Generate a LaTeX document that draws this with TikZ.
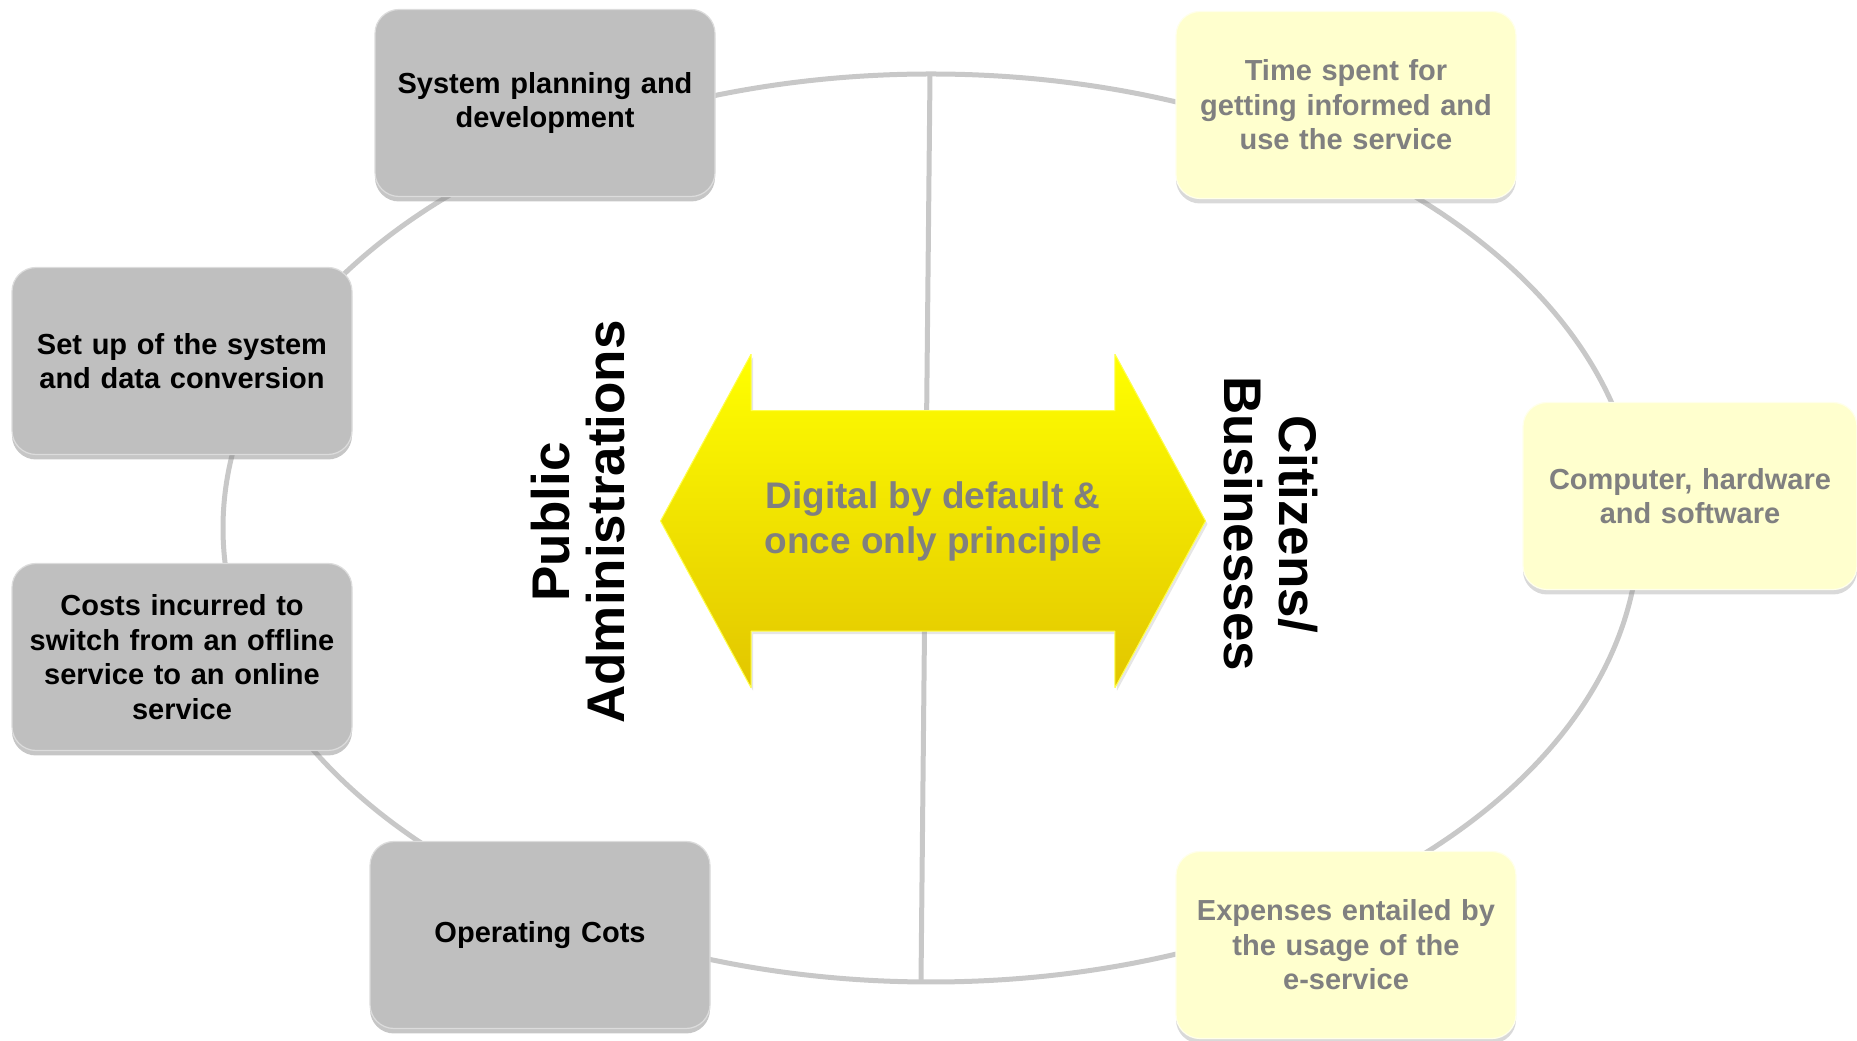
\documentclass[tikz,border=0pt]{standalone}
\usepackage{fontspec}
\setmainfont{Liberation Sans}
\usetikzlibrary{shapes.arrows,shadows}
\definecolor{ringgray}{RGB}{200,200,200}
\definecolor{boxgray}{RGB}{191,191,191}
\definecolor{boxcream}{RGB}{255,255,206}
\definecolor{textgray}{RGB}{128,128,128}
\definecolor{arrowtop}{RGB}{255,255,0}
\definecolor{arrowbottom}{RGB}{226,198,0}
\begin{document}
\begin{tikzpicture}[>=latex,line join=bevel,
  ring/.style={draw=ringgray,line width=5bp},
  costbox/.style={rectangle,rounded corners=24bp,minimum width=340bp,minimum height=187bp,
    text width=320bp,align=center,font=\bfseries\fontsize{29bp}{34.5bp}\selectfont},
  adminbox/.style={costbox,fill=boxgray,draw=boxgray!55!white,line width=1.2bp,text=black,
    drop shadow={shadow xshift=0bp,shadow yshift=-5bp,opacity=0.45}},
  userbox/.style={costbox,fill=boxcream,draw=boxcream!40!white,line width=1.2bp,text=textgray,
    drop shadow={shadow xshift=0bp,shadow yshift=-5bp,opacity=0.3}},
  side/.style={align=center,font=\bfseries\fontsize{53bp}{55bp}\selectfont}]
\useasboundingbox (0bp,0bp) rectangle (1857bp,1041bp);
%%
\coordinate (hub) at (931bp,513bp);
\coordinate (divtop) at (930bp,967bp);
\coordinate (divbottom) at (921bp,59bp);
\draw [ring] (hub) ellipse [x radius=708bp,y radius=454bp];
\draw [ring] (divtop) -- (divbottom);
%%
\node (planning) at (545bp,938bp) [adminbox] {System planning and\\development};
  \node (setup) at (182bp,680bp) [adminbox] {Set up of the system\\and data conversion};
  \node (switch) at (182bp,384bp) [adminbox] {Costs incurred to\\switch from an offline\\service to an online\\service};
  \node (operating) at (540bp,106bp) [adminbox] {Operating Cots};
  \node (time) at (1346bp,936bp) [userbox] {Time spent for\\getting informed and\\use the service};
  \node (computer) at (1690bp,545bp) [userbox,minimum width=334bp] {Computer, hardware\\and software};
  \node (expenses) at (1346bp,96bp) [userbox] {Expenses entailed by\\the usage of the\\e-service};
%%
\node (principle) at (933bp,520bp) [double arrow,draw=arrowtop!70!white,line width=1bp,
    top color=arrowtop,bottom color=arrowbottom,
    drop shadow={shadow xshift=2bp,shadow yshift=-3bp,opacity=0.2},
    minimum height=545bp,minimum width=332bp,double arrow head extend=56.5bp,
    double arrow tip angle=123,inner xsep=2bp,inner ysep=70bp,align=center,
    text=textgray,font=\bfseries\fontsize{37bp}{45bp}\selectfont] {Digital by default \&\\once only principle};
  \node (pa) at (578bp,519bp) [side,rotate=90] {Public\\Administrations};
  \node (cb) at (1271bp,517bp) [side,rotate=-90] {Citizens/\\Businesses};
%
\end{tikzpicture}
\end{document}
